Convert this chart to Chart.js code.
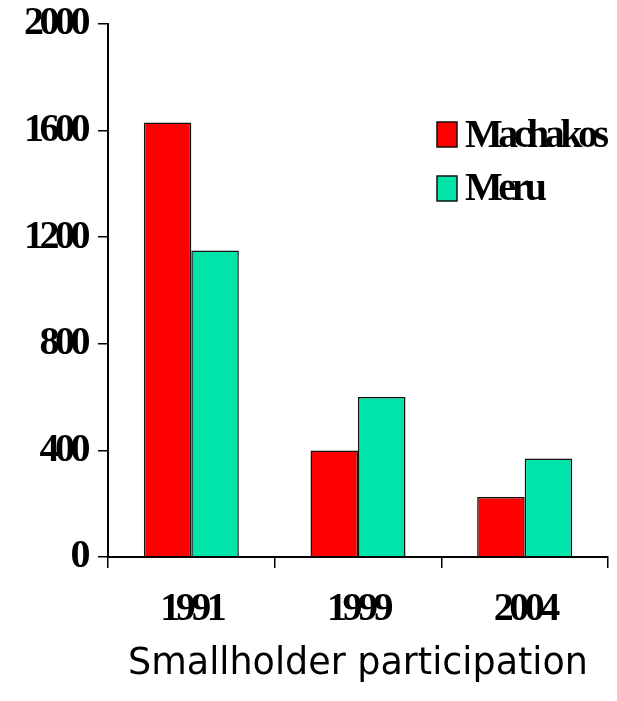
<!DOCTYPE html>
<html>
<head>
<meta charset="utf-8">
<script src="https://cdn.jsdelivr.net/npm/chart.js@4"></script>
<style>
  html, body { margin: 0; padding: 0; background: #fff; }
  #wrap { width: 617px; height: 701px; }
</style>
</head>
<body>
<div id="wrap"><canvas id="c" width="617" height="701"></canvas></div>
<script>
const categories = ['1991', '1999', '2004'];
const machakos = [1630, 400, 225];
const meru = [1150, 600, 370];
const seriesNames = ['Machakos', 'Meru'];
const yMin = 0, yMax = 2000, yStep = 400;
const xTitle = 'Smallholder participation';

const RED = '#FF0000';
const TEAL = '#00E3A9';
const SQUEEZE = '-4.5px';
const SERIF = { family: '"Liberation Serif"', weight: 'bold', size: 40 };

const squeezePlugin = {
  id: 'squeeze',
  beforeLayout(chart) { chart.ctx.letterSpacing = SQUEEZE; },
  beforeDraw(chart) {
    chart.ctx.letterSpacing = SQUEEZE;
    const xs = chart.scales.x;
    if (xs && !xs._wrappedTitle) {
      const orig = xs.drawTitle.bind(xs);
      xs.drawTitle = function () {
        const ctx = this.ctx;
        const ls = ctx.letterSpacing;
        ctx.letterSpacing = '0px';
        orig();
        ctx.letterSpacing = ls;
      };
      xs._wrappedTitle = true;
    }
  },
  afterDraw(chart) {
    const ctx = chart.ctx;
    ctx.save();
    ctx.letterSpacing = SQUEEZE;
    ctx.font = 'bold 40px "Liberation Serif"';
    ctx.textBaseline = 'alphabetic';
    ctx.textAlign = 'left';
    const boxes = [{ y: 122, base: 147 }, { y: 176, base: 200 }];
    chart.data.datasets.forEach((ds, i) => {
      const b = boxes[i];
      ctx.fillStyle = ds.backgroundColor;
      ctx.fillRect(437, b.y, 20, 25);
      ctx.lineWidth = 1.5;
      ctx.strokeStyle = '#111';
      ctx.strokeRect(437, b.y, 20, 25);
      ctx.fillStyle = '#000';
      ctx.fillText(ds.label, 465, b.base);
    });
    ctx.restore();
  }
};

new Chart(document.getElementById('c'), {
  type: 'bar',
  data: {
    labels: categories,
    datasets: [
      { label: seriesNames[0], data: machakos, backgroundColor: RED, borderColor: '#111', borderWidth: 1.5 },
      { label: seriesNames[1], data: meru, backgroundColor: TEAL, borderColor: '#111', borderWidth: 1.5 }
    ]
  },
  options: {
    responsive: false,
    animation: false,
    devicePixelRatio: 1,
    layout: { padding: { top: 24, right: 9, left: 0, bottom: 0 } },
    datasets: { bar: { categoryPercentage: 0.57, barPercentage: 1.0 } },
    plugins: { legend: { display: false }, tooltip: { enabled: false } },
    scales: {
      x: {
        grid: { display: true, drawOnChartArea: false, tickLength: 11, color: '#000', lineWidth: 1.5 },
        border: { color: '#000', width: 2 },
        ticks: { color: '#000', padding: 18, font: SERIF },
        title: {
          display: true, text: xTitle, color: '#000',
          font: { family: '"DejaVu Sans"', weight: 'normal', size: 36.5 },
          padding: { top: 0, bottom: 15 }
        },
        afterFit(scale) { scale.height = 144; scale.paddingLeft = 0; scale.paddingRight = 0; }
      },
      y: {
        min: yMin, max: yMax,
        grid: { display: true, drawOnChartArea: false, tickLength: 10, color: '#000', lineWidth: 1.5 },
        border: { color: '#000', width: 2 },
        ticks: { stepSize: yStep, color: '#000', padding: 12, font: SERIF, callback: (v) => String(v) },
        afterFit(scale) { scale.width = 108; scale.paddingTop = 0; scale.paddingBottom = 0; }
      }
    }
  },
  plugins: [squeezePlugin]
});
</script>
</body>
</html>
